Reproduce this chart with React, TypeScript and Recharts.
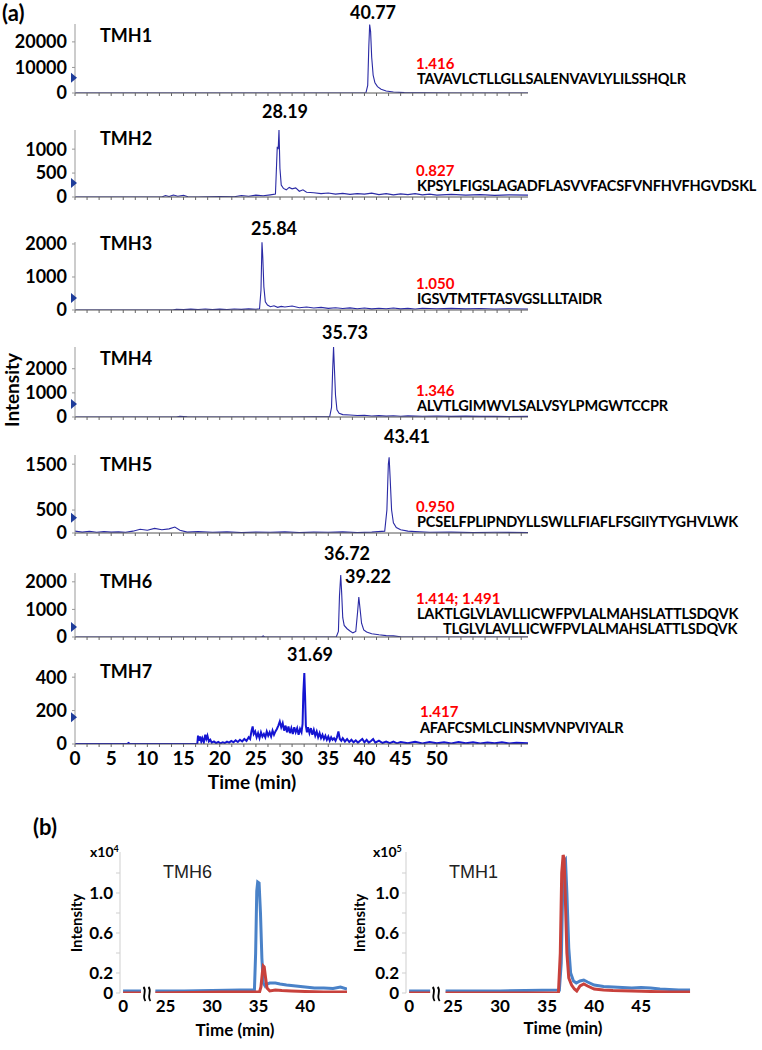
import React from "react";
import { LineChart, Line, XAxis, YAxis, ReferenceDot } from "recharts";

const FONT = "Lato, 'Open Sans', sans-serif";

// ---- panel (a): extracted ion chromatograms, [time (min), intensity]
const TMH1_TRACE: [number, number][] = [
  [0, 0], [10, 0], [20, 0], [30, 0], [40.2, 0], [40.45, 3000], [40.6, 18000],
  [40.72, 26800], [40.85, 24000], [41.0, 14000], [41.2, 7000], [41.45, 4000],
  [41.8, 2500], [42.3, 1500], [43, 800], [44, 400], [45.5, 150], [48, 50], [52, 0], [62.6, 0],
];
const TMH2_TRACE: [number, number][] = [
  [0, 0], [12, 0], [12.5, 30], [13, 10], [13.6, 40], [14.2, 15], [15, 35], [15.6, 5], [17, 0],
  [20, 10], [22, 5], [23, 30], [24, 15], [25, 40], [26, 25], [27, 45], [27.7, 60], [27.95, 1050],
  [28.08, 1000], [28.19, 1400], [28.32, 600], [28.5, 250], [28.8, 180], [29.2, 150], [29.6, 200],
  [30, 170], [30.5, 190], [31, 120], [31.5, 150], [32, 100], [33, 90], [34, 70], [35, 85],
  [36, 60], [37, 75], [38, 55], [39, 70], [40, 60], [41, 80], [42, 50], [43, 70], [44, 45],
  [45, 65], [46, 50], [47, 70], [48, 45], [49, 60], [50, 40], [52, 55], [54, 40], [56, 50],
  [58, 35], [60, 45], [62.6, 40],
];
const TMH3_TRACE: [number, number][] = [
  [0, 0], [13.5, 0], [14, 20], [15, 10], [16, 25], [17, 15], [18, 30], [19, 10], [20, 25],
  [21, 15], [22, 30], [23, 20], [24, 35], [25, 25], [25.5, 40], [25.7, 600], [25.84, 2050],
  [25.95, 1600], [26.1, 700], [26.3, 250], [26.6, 150], [27, 100], [27.5, 130], [28, 80],
  [28.5, 110], [29, 90], [30, 120], [31, 70], [32, 90], [33, 60], [34, 80], [35, 50], [36, 70],
  [37, 45], [38, 65], [39, 40], [40, 60], [41, 35], [42, 55], [43, 40], [44, 60], [45, 35],
  [46, 50], [47, 30], [48, 55], [50, 40], [52, 50], [54, 35], [56, 45], [58, 30], [60, 40], [62.6, 30],
];
const TMH4_TRACE: [number, number][] = [
  [0, 0], [14, 0], [14.5, 30], [15.5, 10], [17, 0], [30, 0], [33, 10], [35.2, 20], [35.45, 400],
  [35.6, 1900], [35.73, 2900], [35.85, 2000], [36.0, 900], [36.2, 300], [36.5, 150], [37, 100],
  [38, 80], [39, 60], [40, 70], [41, 40], [42, 55], [43, 35], [44, 50], [45, 30], [46, 45],
  [48, 30], [50, 40], [52, 25], [54, 35], [56, 25], [58, 30], [60, 20], [62.6, 25],
];
const TMH5_TRACE: [number, number][] = [
  [0, 40], [1, 20], [2, 35], [3, 15], [4, 30], [5, 20], [6, 25], [7, 15], [8, 40], [9, 80],
  [10, 60], [11, 100], [12, 70], [13, 90], [13.8, 130], [14.5, 60], [15.5, 20], [17, 30],
  [19, 15], [21, 25], [23, 10], [25, 20], [27, 15], [29, 25], [31, 10], [33, 20], [35, 15],
  [37, 25], [39, 10], [41, 20], [42.8, 40], [43.1, 500], [43.3, 1500], [43.41, 1650],
  [43.55, 1200], [43.75, 500], [44, 220], [44.4, 120], [45, 70], [46, 40], [47, 30], [49, 15],
  [52, 20], [55, 10], [58, 15], [62.6, 10],
];
const TMH6_TRACE: [number, number][] = [
  [0, 0], [25.8, 0], [26, 40], [26.2, 0], [36.1, 0], [36.4, 200], [36.55, 1500], [36.72, 2250],
  [36.85, 1600], [37.0, 700], [37.2, 420], [37.6, 300], [38.0, 220], [38.4, 150], [38.8, 200],
  [39.05, 900], [39.22, 1450], [39.4, 1000], [39.6, 500], [39.9, 260], [40.3, 180], [41, 120],
  [42, 80], [43, 50], [44, 40], [45, 10], [47, 0], [62.6, 0],
];
const TMH7_TRACE: [number, number][] = [
  [0, 0], [7.2, 0], [7.4, 6], [7.6, 0], [16.9, 0], [17.0, 50], [17.15, 20], [17.3, 45],
  [17.45, 15], [17.6, 35], [17.8, 10], [18.0, 55], [18.15, 30], [18.3, 50], [18.5, 15],
  [18.7, 25], [18.9, 8], [19.2, 15], [19.5, 5], [19.8, 12], [20.1, 4], [20.4, 10], [20.7, 6],
  [21.0, 14], [21.3, 8], [21.6, 18], [21.9, 10], [22.2, 22], [22.5, 12], [22.8, 25], [23.1, 15],
  [23.4, 30], [23.7, 18], [24.0, 40], [24.2, 30], [24.4, 80], [24.55, 105], [24.7, 60],
  [24.9, 75], [25.1, 40], [25.3, 65], [25.5, 35], [25.7, 70], [25.9, 45], [26.1, 60], [26.3, 40],
  [26.5, 75], [26.7, 50], [26.9, 70], [27.1, 45], [27.3, 80], [27.5, 55], [27.7, 75], [27.9, 90],
  [28.1, 110], [28.3, 135], [28.5, 100], [28.7, 125], [28.9, 80], [29.1, 110], [29.3, 70],
  [29.5, 105], [29.7, 65], [29.9, 95], [30.1, 60], [30.3, 100], [30.5, 70], [30.7, 95],
  [30.9, 55], [31.1, 90], [31.3, 70], [31.45, 120], [31.55, 300], [31.69, 425], [31.8, 280],
  [31.9, 110], [32.05, 70], [32.2, 100], [32.4, 65], [32.6, 95], [32.8, 55], [33.0, 85],
  [33.2, 50], [33.4, 75], [33.6, 40], [33.8, 65], [34.0, 35], [34.2, 55], [34.4, 30], [34.6, 50],
  [34.8, 25], [35.0, 45], [35.2, 20], [35.4, 40], [35.6, 25], [35.8, 35], [36.0, 20], [36.2, 40],
  [36.4, 75], [36.6, 30], [36.8, 20], [37.0, 35], [37.3, 15], [37.6, 30], [37.9, 12], [38.2, 25],
  [38.5, 10], [38.8, 22], [39.1, 8], [39.4, 20], [39.7, 30], [40.0, 10], [40.3, 25], [40.6, 8],
  [40.9, 18], [41.2, 30], [41.5, 8], [42, 20], [42.5, 6], [43, 15], [43.5, 5], [44, 14],
  [44.5, 4], [45, 12], [46, 4], [47, 14], [48, 3], [49, 12], [50, 4], [51, 10], [52, 3],
  [53, 12], [54, 4], [55, 10], [56, 3], [57, 9], [58, 4], [59, 10], [60, 3], [61, 8], [62.6, 5],
];

const PANEL_NAMES = ["TMH1", "TMH2", "TMH3", "TMH4", "TMH5", "TMH6", "TMH7"];
const Y_MAX = [27000, 1400, 2060, 2900, 1700, 2320, 425];
const Y_TICKS = [
  [0, 10000, 20000], [0, 500, 1000], [0, 1000, 2000], [0, 1000, 2000],
  [0, 500, 1500], [0, 1000, 2000], [0, 200, 400],
];
const MARKER_LEVEL = [6000, 290, 360, 540, 330, 360, 160];
const PEAK_LABELS = [["40.77"], ["28.19"], ["25.84"], ["35.73"], ["43.41"], ["36.72", "39.22"], ["31.69"]];
const RATIOS = ["1.416", "0.827", "1.050", "1.346", "0.950", "1.414; 1.491", "1.417"];
const SEQUENCES = [
  ["TAVAVLCTLLGLLSALENVAVLYLILSSHQLR"],
  ["KPSYLFIGSLAGADFLASVVFACSFVNFHVFHGVDSKL"],
  ["IGSVTMTFTASVGSLLLTAIDR"],
  ["ALVTLGIMWVLSALVSYLPMGWTCCPR"],
  ["PCSELFPLIPNDYLLSWLLFIAFLFSGIIYTYGHVLWK"],
  ["LAKTLGLVLAVLLICWFPVLALMAHSLATTLSDQVK", "TLGLVLAVLLICWFPVLALMAHSLATTLSDQVK"],
  ["AFAFCSMLCLINSMVNPVIYALR"],
];
const TRACES = [TMH1_TRACE, TMH2_TRACE, TMH3_TRACE, TMH4_TRACE, TMH5_TRACE, TMH6_TRACE, TMH7_TRACE];

const X_MAX = 62.6;
const MINOR_TICKS = Array.from({ length: 38 }, (_, i) => (i * 5) / 3);
const TIME_LABELS = [0, 5, 10, 15, 20, 25, 30, 35, 40, 45, 50];

// ---- panel (b): XIC overlays, intensity in x10^4 / x10^5
const B6_BLUE_PRE: [number, number][] = [[0, 0.02], [2.0, 0.02]];
const B6_BLUE: [number, number][] = [
  [23.9, 0.02], [27, 0.02], [30, 0.025], [33, 0.03], [34.55, 0.03], [34.68, 0.4], [34.8, 1.02],
  [34.9, 1.11], [35.05, 1.1], [35.2, 0.8], [35.35, 0.35], [35.5, 0.1], [35.7, 0.07], [35.9, 0.09],
  [36.2, 0.1], [36.8, 0.1], [37.3, 0.09], [38, 0.08], [39, 0.07], [40, 0.06], [41, 0.05],
  [42, 0.05], [43, 0.045], [43.8, 0.06], [44.5, 0.04],
];
const B6_RED_PRE: [number, number][] = [[0, 0], [2.0, 0]];
const B6_RED: [number, number][] = [
  [23.9, 0], [28, 0.005], [31, 0.01], [35.1, 0.01], [35.25, 0.06], [35.4, 0.2], [35.5, 0.27],
  [35.6, 0.26], [35.75, 0.15], [35.9, 0.05], [36.2, 0.02], [36.8, 0.03], [37.5, 0.025],
  [38.5, 0.02], [40, 0.015], [42, 0.01], [44.5, 0.01],
];
const B1_BLUE_PRE: [number, number][] = [[0, 0.02], [2.7, 0.02]];
const B1_BLUE: [number, number][] = [
  [24.2, 0.02], [30, 0.02], [36.3, 0.03], [36.5, 0.3], [36.65, 1.0], [36.8, 1.31], [36.95, 1.33],
  [37.1, 1.0], [37.3, 0.45], [37.5, 0.2], [37.8, 0.12], [38.1, 0.1], [38.5, 0.12], [38.9, 0.13],
  [39.3, 0.11], [40, 0.08], [41, 0.065], [42, 0.06], [43, 0.055], [44, 0.05], [45, 0.055],
  [46, 0.05], [47, 0.04], [48, 0.035], [49, 0.03], [50.2, 0.03],
];
const B1_RED_PRE: [number, number][] = [[0, 0], [2.7, 0]];
const B1_RED: [number, number][] = [
  [24.2, 0], [36.2, 0], [36.4, 0.4], [36.55, 1.2], [36.7, 1.38], [36.8, 1.35], [36.95, 0.9],
  [37.1, 0.4], [37.3, 0.15], [37.6, 0.08], [37.9, 0.04], [38.15, 0.02], [38.5, 0.07], [38.9, 0.09],
  [39.3, 0.07], [40, 0.04], [41, 0.03], [42, 0.025], [44, 0.02], [46, 0.015], [48, 0.01], [50.2, 0.01],
];
const B_Y_TICKS = [0, 0.2, 0.4, 0.6, 0.8, 1.0, 1.2];
const B_Y_LABELS = [0, 0.2, 0.6, 1.0];
const B6_TIME_TICKS = [0, 25, 30, 35, 40];
const B1_TIME_TICKS = [0, 25, 30, 35, 40, 45];

// layout of panel (a) plots: axis top / baseline in px
const A_TOP = [24, 130, 242, 347, 455, 573, 673];
const A_BASE = [93, 197, 310, 417, 533, 637, 744];

function Marker(p: any) {
  const { cx, cy } = p;
  return <path d={`M${cx - 4},${cy - 5} L${cx + 2},${cy} L${cx - 4},${cy + 5} Z`} fill="#1e3c9a" />;
}

function TimeTick(p: any) {
  const v = p.payload.value;
  const lab = TIME_LABELS.find((l) => Math.abs(l - v) < 0.01);
  if (lab === undefined) return <g />;
  return (
    <text x={p.x} y={p.y} dy="0.71em" textAnchor="middle" fontSize={19} fontWeight={700} fontFamily={FONT} fill="#000">
      {lab}
    </text>
  );
}

function TracePanel({ i }: { i: number }) {
  const last = i === 6;
  const mt = 10;
  const mb = last ? 4 : 10;
  const xh = last ? 30 : 5;
  const plotH = A_BASE[i] - A_TOP[i];
  const data = TRACES[i].map(([t, v]) => ({ t, v }));
  return (
    <div style={{ position: "absolute", left: 0, top: A_TOP[i] - mt }}>
      <LineChart width={540} height={mt + plotH + xh + mb} data={data} margin={{ top: mt, right: 12, bottom: mb, left: 0 }}>
        <XAxis
          dataKey="t"
          type="number"
          domain={[0, X_MAX]}
          ticks={MINOR_TICKS}
          interval={0}
          height={xh}
          tickSize={3}
          tickMargin={5}
          allowDataOverflow
          axisLine={{ stroke: "#555" }}
          tickLine={{ stroke: "#666" }}
          tick={last ? (p: any) => <TimeTick {...p} /> : () => <g />}
        />
        <YAxis
          type="number"
          domain={[0, Y_MAX[i]]}
          ticks={Y_TICKS[i]}
          interval={0}
          width={75}
          tickSize={3}
          tickMargin={5}
          allowDataOverflow
          axisLine={{ stroke: "#999" }}
          tickLine={{ stroke: "#999" }}
          tick={{ fontSize: 18, fontWeight: 700, fill: "#000", fontFamily: FONT }}
        />
        <Line
          type="linear"
          dataKey="v"
          stroke={last ? "#1414d2" : "#2a2aa5"}
          strokeWidth={last ? 2 : 1.1}
          dot={false}
          isAnimationActive={false}
        />
        <ReferenceDot x={0} y={MARKER_LEVEL[i]} ifOverflow="visible" shape={Marker} />
      </LineChart>
    </div>
  );
}

function broken(pre: [number, number][], post: [number, number][], zero: number) {
  const a = pre.map(([t, v]) => ({ x: t + zero, v }));
  const gapX = (a[a.length - 1].x + post[0][0]) / 2;
  return [...a, { x: gapX, v: null }, ...post.map(([t, v]) => ({ x: t, v }))];
}

function BreakMark(p: any) {
  const { cx, cy } = p;
  const s = (o: number) =>
    `M${cx + o - 1},${cy - 6} C${cx + o + 3},${cy - 2} ${cx + o - 3},${cy + 3} ${cx + o + 1},${cy + 8}`;
  return (
    <g>
      <rect x={cx - 6} y={cy - 7} width={12} height={15} fill="#fff" />
      <path d={s(-2.5)} stroke="#000" strokeWidth={1.8} fill="none" />
      <path d={s(2.5)} stroke="#000" strokeWidth={1.8} fill="none" />
    </g>
  );
}

function OverlayPanel(props: {
  left: number; width: number; zero: number; xMax: number; breakAt: number; timeTicks: number[];
  blue: { x: number; v: number | null }[]; red: { x: number; v: number | null }[];
}) {
  const { left, width, zero, xMax, breakAt, timeTicks, blue, red } = props;
  const axisTicks = timeTicks.map((t) => (t === 0 ? zero : t));
  return (
    <div style={{ position: "absolute", left, top: 847 }}>
      <LineChart width={width} height={5 + 141 + 26} margin={{ top: 5, right: 0, bottom: 0, left: 0 }}>
        <XAxis
          dataKey="x"
          type="number"
          domain={[zero - 0.33, xMax]}
          ticks={axisTicks}
          interval={0}
          height={26}
          tickSize={0}
          tickMargin={7}
          axisLine={false}
          allowDataOverflow
          tickFormatter={(v: number) => (v === zero ? "0" : String(v))}
          tick={{ fontSize: 17, fontWeight: 700, fill: "#000", fontFamily: FONT }}
        />
        <YAxis
          type="number"
          domain={[0, 1.41]}
          ticks={B_Y_TICKS}
          interval={0}
          width={45}
          tickSize={4}
          tickMargin={3}
          allowDataOverflow
          axisLine={{ stroke: "#cfcfcf" }}
          tickLine={{ stroke: "#cfcfcf" }}
          tick={(p: any) =>
            B_Y_LABELS.some((l) => Math.abs(l - p.payload.value) < 1e-6) ? (
              <text x={p.x} y={p.y} dy="0.355em" textAnchor="end" fontSize={17} fontWeight={700} fontFamily={FONT} fill="#000">
                {p.payload.value === 0 ? "0" : p.payload.value.toFixed(1)}
              </text>
            ) : (
              <g />
            )
          }
        />
        <Line data={blue} dataKey="v" stroke="#4a82c8" strokeWidth={3} dot={false} isAnimationActive={false} />
        <Line data={red} dataKey="v" stroke="#c8413c" strokeWidth={3} dot={false} isAnimationActive={false} />
        <ReferenceDot x={breakAt} y={0} ifOverflow="visible" shape={BreakMark} />
      </LineChart>
    </div>
  );
}

function T(props: {
  x: number; y: number; s: number; w?: number; c?: string; f?: string; mid?: boolean; rot?: boolean;
  ls?: number; children: React.ReactNode;
}) {
  const { x, y, s, w = 700, c = "#000", f = FONT, mid, rot, ls = 0, children } = props;
  const tr = rot ? "translate(-50%, -50%) rotate(-90deg)" : `translate(${mid ? "-50%" : "0"}, -50%)`;
  return (
    <div
      style={{
        position: "absolute", left: x, top: y, transform: tr, fontSize: s, fontWeight: w, color: c,
        fontFamily: f, whiteSpace: "nowrap", lineHeight: 0.8, letterSpacing: ls,
      }}
    >
      {children}
    </div>
  );
}

// text positions (px) for panel (a)
const NAME_Y = [35, 138, 243, 358, 464, 581, 671];
const RATIO_Y = [63, 170, 283, 390, 506, 598, 711];
const SEQ_Y = [79, 186, 299, 406, 522, 614, 728];
const PEAK_POS = [
  [[373, 12]], [[285, 111]], [[274, 228]], [[345, 332]], [[407, 436]],
  [[347, 553], [368, 576]], [[310, 654]],
];

export default function App() {
  return (
    <div style={{ position: "absolute", left: 0, top: 0, width: 762, height: 1050, background: "#fff", overflow: "hidden" }}>
      {PANEL_NAMES.map((_, i) => (
        <TracePanel key={i} i={i} />
      ))}
      <T x={2} y={13} s={22}>(a)</T>
      <T x={12} y={390} s={19} rot>Intensity</T>
      <T x={252} y={782} s={19} mid>Time (min)</T>
      {PANEL_NAMES.map((n, i) => (
        <React.Fragment key={n}>
          <T x={100} y={NAME_Y[i]} s={18}>{n}</T>
          {PEAK_LABELS[i].map((p, j) => (
            <T key={p} x={PEAK_POS[i][j][0]} y={PEAK_POS[i][j][1]} s={18} mid>{p}</T>
          ))}
          <T x={i === 6 ? 420 : 416} y={RATIO_Y[i]} s={15} c="#ff0000">{RATIOS[i]}</T>
          {SEQUENCES[i].map((sq, j) => (
            <T key={sq} x={j === 1 ? 443 : i === 6 ? 420 : 417} y={SEQ_Y[i] + j * 15} s={14.5} ls={-0.2}>{sq}</T>
          ))}
        </React.Fragment>
      ))}

      <OverlayPanel
        left={75} width={272} zero={20.43} xMax={44.5} breakAt={23.0} timeTicks={B6_TIME_TICKS}
        blue={broken(B6_BLUE_PRE, B6_BLUE, 20.43)} red={broken(B6_RED_PRE, B6_RED, 20.43)}
      />
      <OverlayPanel
        left={361} width={330} zero={20.32} xMax={50.3} breakAt={23.2} timeTicks={B1_TIME_TICKS}
        blue={broken(B1_BLUE_PRE, B1_BLUE, 20.32)} red={broken(B1_RED_PRE, B1_RED, 20.32)}
      />
      <T x={33} y={827} s={22}>(b)</T>
      <T x={90} y={851} s={14}>x10<sup style={{ fontSize: 9 }}>4</sup></T>
      <T x={373} y={851} s={14}>x10<sup style={{ fontSize: 9 }}>5</sup></T>
      <T x={163} y={872} s={18} w={400} c="#222" f="'Liberation Sans', Arial, sans-serif">TMH6</T>
      <T x={449} y={872} s={18} w={400} c="#222" f="'Liberation Sans', Arial, sans-serif">TMH1</T>
      <T x={76} y={923} s={15} rot>Intensity</T>
      <T x={359} y={923} s={15} rot>Intensity</T>
      <T x={235} y={1030} s={17} mid>Time (min)</T>
      <T x={563} y={1028} s={17} mid>Time (min)</T>
    </div>
  );
}
